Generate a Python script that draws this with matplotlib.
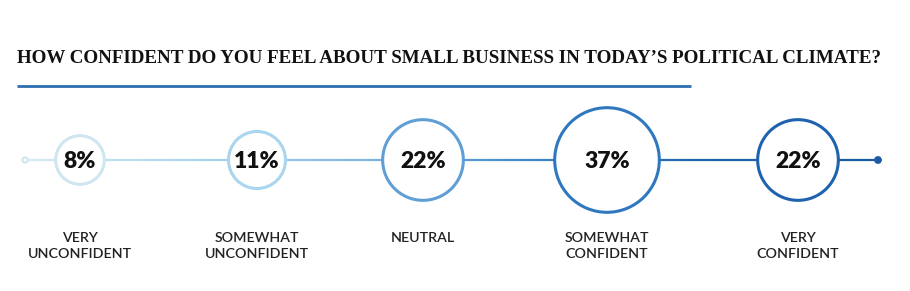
import numpy as np
import matplotlib
matplotlib.use("Agg")
import matplotlib.pyplot as plt
from matplotlib.collections import LineCollection
from matplotlib.colors import LinearSegmentedColormap
from matplotlib.patches import Circle

TITLE = "HOW CONFIDENT DO YOU FEEL ABOUT SMALL BUSINESS IN TODAY\u2019S POLITICAL CLIMATE?"
categories = ["VERY\nUNCONFIDENT", "SOMEWHAT\nUNCONFIDENT", "NEUTRAL",
              "SOMEWHAT\nCONFIDENT", "VERY\nCONFIDENT"]
values = [8, 11, 22, 37, 22]

# layout (pixel coords of a 910x291 canvas)
centers_x = [80, 257, 423, 607, 798]
line_y = 160
ring_colors = ["#cfe6f0", "#a8d6ee", "#5f9fd6", "#2f78bf", "#1f62ad"]
cmap = LinearSegmentedColormap.from_list(
    "tl", ["#d6eaf2", "#a9d5ec", "#7fb6e0", "#3f84c6", "#1f62ad", "#1b5aa3"])

fig = plt.figure(figsize=(9.1, 2.91), dpi=100)
ax = fig.add_axes([0, 0, 1, 1])
ax.set_xlim(0, 910)
ax.set_ylim(291, 0)
ax.axis("off")

# title, shrunk to span x=17..888 like the reference
title = ax.text(17, 63, TITLE, family="Liberation Serif", fontweight="bold",
                fontsize=14, color="#111111", ha="left", va="baseline")
renderer = fig.canvas.get_renderer()
w = title.get_window_extent(renderer).width
title.set_fontsize(14 * 871 / w)
ax.plot([17, 691], [86, 86], color="#2e6fb0", lw=2, solid_capstyle="butt")

# gradient timeline
x0, x1 = 25, 878
xs = np.linspace(x0, x1, 300)
segs = np.stack([np.column_stack([xs[:-1], np.full(299, line_y)]),
                 np.column_stack([xs[1:], np.full(299, line_y)])], axis=1)
lc = LineCollection(segs, cmap=cmap, linewidths=1.6, zorder=1)
lc.set_array((xs[:-1] - x0) / (x1 - x0))
lc.set_clim(0, 1)
ax.add_collection(lc)
ax.add_patch(Circle((x0, line_y), 2.6, facecolor="white",
                    edgecolor="#c9e2ee", lw=1.2, zorder=2))
ax.add_patch(Circle((x1, line_y), 3.2, facecolor="#1b5aa3",
                    edgecolor="#1b5aa3", lw=1, zorder=2))

# bubbles: area proportional to value
k = 8.6
for cx, v, lab, col in zip(centers_x, values, categories, ring_colors):
    r = k * np.sqrt(v)
    ax.add_patch(Circle((cx, line_y), r, facecolor="white", edgecolor=col,
                        lw=2.2, zorder=3))
    ax.text(cx, line_y + 1, f"{v}%", family="Lato", fontweight="heavy",
            fontsize=16.5, color="#111111", ha="center", va="center", zorder=4)
    ax.text(cx, 232, lab, family="Lato", fontweight="semibold",
            fontsize=10.2, color="#222222", ha="center", va="top",
            linespacing=1.35, zorder=4)

fig.savefig("out.png", dpi=100, facecolor="white")
